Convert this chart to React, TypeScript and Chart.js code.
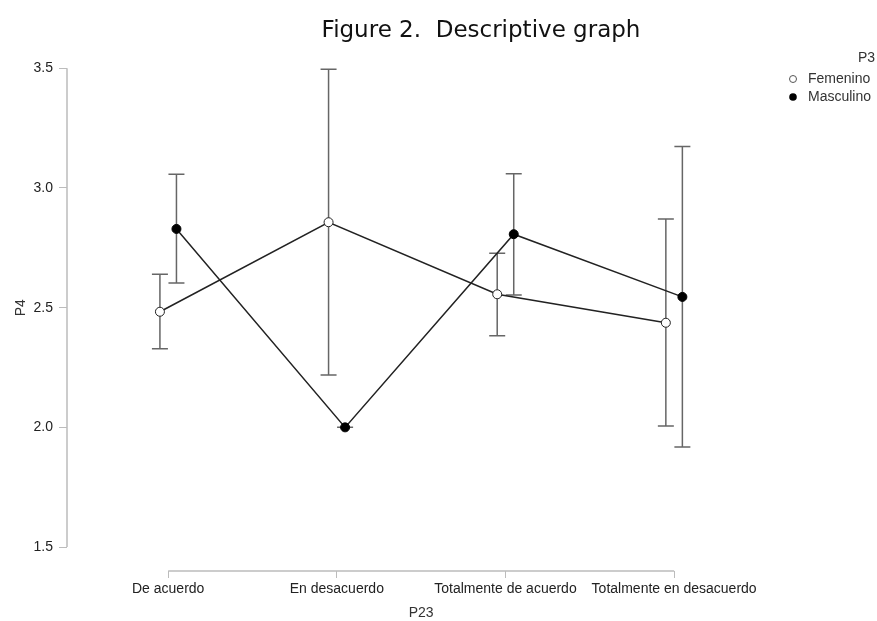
import React, { useEffect, useRef } from "react";
import { Chart, registerables } from "chart.js";

Chart.register(...registerables);

const categories = ["De acuerdo", "En desacuerdo", "Totalmente de acuerdo", "Totalmente en desacuerdo"];
const yTicks = [1.5, 2.0, 2.5, 3.0, 3.5];

const femeninoMean = [2.483, 2.857, 2.556, 2.437];
const femeninoLower = [2.328, 2.219, 2.383, 2.006];
const femeninoUpper = [2.640, 3.496, 2.727, 2.870];

const masculinoMean = [2.829, 2.0, 2.807, 2.545];
const masculinoLower = [2.603, 2.0, 2.553, 1.918];
const masculinoUpper = [3.057, 2.0, 3.060, 3.173];

const DODGE = 0.049;
const FONT = "'Liberation Sans', Arial, Helvetica, sans-serif";

type Series = { mean: number[]; lower: number[]; upper: number[]; offset: number };

const seriesList: Series[] = [
  { mean: femeninoMean, lower: femeninoLower, upper: femeninoUpper, offset: -DODGE },
  { mean: masculinoMean, lower: masculinoLower, upper: masculinoUpper, offset: DODGE },
];

const decorPlugin = {
  id: "decor",
  beforeDatasetsDraw(chart: any) {
    const { ctx, scales } = chart;
    const xs = scales.x;
    const ys = scales.y;
    ctx.save();
    // axis lines
    ctx.strokeStyle = "#bcbcbc";
    ctx.lineWidth = 1.5;
    ctx.beginPath();
    const ax = chart.chartArea.left;
    ctx.moveTo(ax, ys.getPixelForValue(yTicks[0]));
    ctx.lineTo(ax, ys.getPixelForValue(yTicks[yTicks.length - 1]));
    const ay = chart.chartArea.bottom;
    ctx.moveTo(xs.getPixelForValue(0), ay);
    ctx.lineTo(xs.getPixelForValue(categories.length - 1), ay);
    ctx.stroke();
    // error bars
    ctx.strokeStyle = "#666";
    ctx.lineWidth = 1.5;
    seriesList.forEach((s) => {
      s.mean.forEach((_, i) => {
        const x = xs.getPixelForValue(i + s.offset);
        const yl = ys.getPixelForValue(s.lower[i]);
        const yu = ys.getPixelForValue(s.upper[i]);
        ctx.beginPath();
        ctx.moveTo(x, yl);
        ctx.lineTo(x, yu);
        ctx.moveTo(x - 8, yl);
        ctx.lineTo(x + 8, yl);
        ctx.moveTo(x - 8, yu);
        ctx.lineTo(x + 8, yu);
        ctx.stroke();
      });
    });
    ctx.restore();
  },
  afterDraw(chart: any) {
    const { ctx, scales } = chart;
    const xs = scales.x;
    const ys = scales.y;
    ctx.save();
    // title
    ctx.fillStyle = "#111";
    ctx.font = "23px 'DejaVu Sans', sans-serif";
    ctx.textAlign = "center";
    ctx.textBaseline = "alphabetic";
    ctx.fillText("Figure 2.  Descriptive graph", 481, 37);
    // axis titles
    ctx.fillStyle = "#333";
    ctx.font = `14px ${FONT}`;
    ctx.textBaseline = "middle";
    const midX = (xs.getPixelForValue(0) + xs.getPixelForValue(categories.length - 1)) / 2;
    ctx.fillText("P23", midX, 613);
    const midY = (ys.getPixelForValue(yTicks[0]) + ys.getPixelForValue(yTicks[yTicks.length - 1])) / 2;
    ctx.save();
    ctx.translate(21, midY);
    ctx.rotate(-Math.PI / 2);
    ctx.fillText("P4", 0, 0);
    ctx.restore();
    // legend
    ctx.textAlign = "right";
    ctx.fillText("P3", 875, 58);
    ctx.textAlign = "left";
    ctx.fillText("Femenino", 808, 79);
    ctx.fillText("Masculino", 808, 97);
    ctx.lineWidth = 1;
    ctx.beginPath();
    ctx.arc(793, 79, 3.5, 0, Math.PI * 2);
    ctx.fillStyle = "#fff";
    ctx.fill();
    ctx.strokeStyle = "#555";
    ctx.stroke();
    ctx.beginPath();
    ctx.arc(793, 97, 3.8, 0, Math.PI * 2);
    ctx.fillStyle = "#000";
    ctx.fill();
    ctx.restore();
  },
};

export default function App() {
  const ref = useRef<HTMLCanvasElement>(null);
  useEffect(() => {
    if (!ref.current) return;
    const chart = new Chart(ref.current, {
      type: "scatter",
      data: {
        datasets: [
          {
            label: "Femenino",
            data: femeninoMean.map((v, i) => ({ x: i - DODGE, y: v })),
            showLine: true,
            borderColor: "#222",
            borderWidth: 1.5,
            pointRadius: 4.5,
            pointBackgroundColor: "#fff",
            pointBorderColor: "#222",
            pointBorderWidth: 1,
            clip: false,
          },
          {
            label: "Masculino",
            data: masculinoMean.map((v, i) => ({ x: i + DODGE, y: v })),
            showLine: true,
            borderColor: "#222",
            borderWidth: 1.5,
            pointRadius: 4.5,
            pointBackgroundColor: "#000",
            pointBorderColor: "#000",
            pointBorderWidth: 1,
            clip: false,
          },
        ],
      },
      options: {
        animation: false,
        responsive: true,
        maintainAspectRatio: false,
        layout: { padding: { top: 68.3, right: 101.7, left: 0, bottom: 0 } },
        plugins: { legend: { display: false }, tooltip: { enabled: false }, title: { display: false } },
        scales: {
          x: {
            type: "linear",
            min: -0.6,
            max: 3.6,
            afterBuildTicks: (s: any) => {
              s.ticks = categories.map((_, i) => ({ value: i }));
            },
            afterFit: (s: any) => {
              s.height = 50;
            },
            ticks: {
              autoSkip: false,
              maxRotation: 0,
              minRotation: 0,
              padding: 3,
              color: "#222",
              font: { family: FONT, size: 14 },
              callback: (v: any) => categories[v] ?? "",
            },
            grid: { drawOnChartArea: false, drawTicks: true, tickLength: 7, color: "#bcbcbc", lineWidth: 1 },
            border: { display: false },
          },
          y: {
            type: "linear",
            min: 1.4,
            max: 3.5,
            afterBuildTicks: (s: any) => {
              s.ticks = yTicks.map((v) => ({ value: v }));
            },
            afterFit: (s: any) => {
              s.width = 67;
            },
            ticks: {
              padding: 6,
              color: "#222",
              font: { family: FONT, size: 14 },
              callback: (v: any) => Number(v).toFixed(1),
            },
            grid: { drawOnChartArea: false, drawTicks: true, tickLength: 8, color: "#bcbcbc", lineWidth: 1 },
            border: { display: false },
          },
        },
      },
      plugins: [decorPlugin],
    } as any);
    return () => chart.destroy();
  }, []);
  return (
    <div style={{ position: "fixed", left: 0, top: 0, width: 877, height: 621, background: "#fff" }}>
      <canvas ref={ref} />
    </div>
  );
}
